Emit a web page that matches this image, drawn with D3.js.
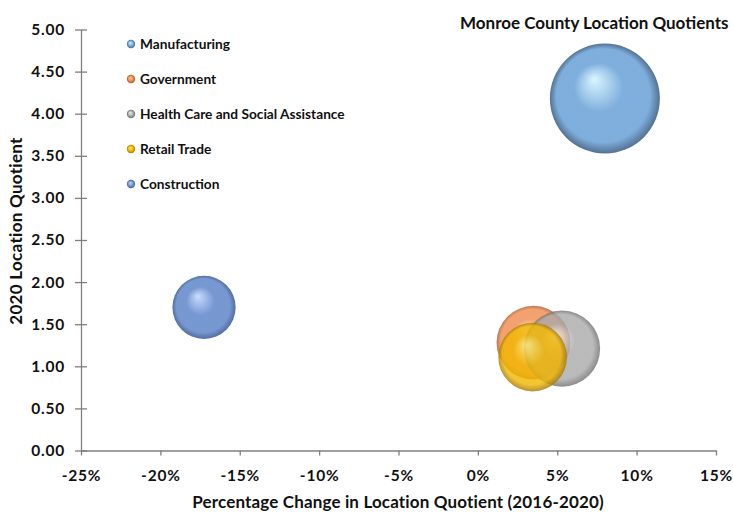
<!DOCTYPE html>
<html><head><meta charset="utf-8">
<script src="https://cdn.jsdelivr.net/npm/d3@7"></script>
<style>
html,body{margin:0;padding:0;background:#fff;}
text{font-family:Lato,"Open Sans",sans-serif;font-weight:bold;fill:#111;}
</style></head>
<body><svg id="c" width="733" height="512"></svg>
<script>
const categories = ["Manufacturing","Government","Health Care and Social Assistance","Retail Trade","Construction"];
const pctChange = [8.0, 3.5, 5.3, 3.45, -17.25];
const locationQuotient = [4.18, 1.28, 1.21, 1.11, 1.70];
const bubbleSize = [100, 45, 48, 39, 33];
const baseColors = ["#78aadb","#f08a4b","#a9a9a9","#f2b700","#7092cf"];
const lightColors = ["#d8f6ff","#ffd2a8","#f2f2f2","#fff07a","#c6dcff"];
const darkColors = ["#4a6a8c","#a65a2a","#6e6e6e","#a57800","#4a659a"];
const xTicks = [-25,-20,-15,-10,-5,0,5,10,15];
const yTicks = [0,0.5,1,1.5,2,2.5,3,3.5,4,4.5,5];

const svg = d3.select("#c");
const x = d3.scaleLinear().domain([-25,15]).range([81,716]);
const y = d3.scaleLinear().domain([0,5]).range([450.5,29.5]);
const r = d3.scaleSqrt().domain([0,100]).range([0,55]);

const defs = svg.append("defs");
categories.forEach((c,i)=>{
  const g = defs.append("radialGradient").attr("id","g"+i)
    .attr("cx","50%").attr("cy","50%").attr("r","50%").attr("fx","40%").attr("fy","32%");
  g.append("stop").attr("offset","0%").attr("stop-color",lightColors[i]);
  g.append("stop").attr("offset","45%").attr("stop-color",baseColors[i]);
  g.append("stop").attr("offset","85%").attr("stop-color",baseColors[i]);
  g.append("stop").attr("offset","100%").attr("stop-color",darkColors[i]);
  const lg = defs.append("radialGradient").attr("id","sm"+i)
    .attr("cx","50%").attr("cy","50%").attr("r","50%").attr("fx","40%").attr("fy","35%");
  lg.append("stop").attr("offset","0%").attr("stop-color",lightColors[i]);
  lg.append("stop").attr("offset","60%").attr("stop-color",baseColors[i]);
  lg.append("stop").attr("offset","100%").attr("stop-color",darkColors[i]);
});

// axes
const yAxis = svg.append("g").attr("transform",`translate(${x(-25)},0)`)
  .call(d3.axisLeft(y).tickValues(yTicks).tickFormat(d3.format(".2f")).tickSize(6).tickSizeOuter(0));
yAxis.selectAll(".tick line").attr("x1",6).attr("x2",-6);
const xAxis = svg.append("g").attr("transform",`translate(0,${y(0)})`)
  .call(d3.axisBottom(x).tickValues(xTicks).tickFormat(d=>d+"%").tickSize(5).tickSizeOuter(0));
[yAxis,xAxis].forEach(a=>{
  a.select(".domain").attr("stroke","#7f7f7f").attr("stroke-width",1.3);
  a.selectAll(".tick line").attr("stroke","#7f7f7f").attr("stroke-width",1.3);
  a.selectAll(".tick text").style("font-size","15.5px").style("letter-spacing","0.8px").attr("fill","#111");
});
yAxis.selectAll(".tick text").attr("x",-16);
xAxis.selectAll(".tick text").attr("y",19);

// bubbles
const order = [0,1,2,3,4];
svg.append("g").selectAll("circle").data(order).join("circle")
  .attr("cx",i=>x(pctChange[i])).attr("cy",i=>y(locationQuotient[i]))
  .attr("r",i=>r(bubbleSize[i]))
  .attr("fill",i=>`url(#g${i})`).attr("fill-opacity",i=>(i>=1&&i<=3)?0.8:0.95);

// legend
const leg = svg.append("g");
categories.forEach((c,i)=>{
  const yy = 44 + i*35;
  leg.append("circle").attr("cx",131).attr("cy",yy).attr("r",4.2).attr("fill",`url(#sm${i})`);
  leg.append("text").attr("x",140).attr("y",yy+5.2).style("font-size","13.7px").text(c);
});

// title
svg.append("text").attr("x",460).attr("y",28.5).style("font-size","17px")
  .text("Monroe County Location Quotients");

// axis titles
svg.append("text").attr("x",398).attr("y",508).attr("text-anchor","middle").style("font-size","17px").style("letter-spacing","0.15px")
  .text("Percentage Change in Location Quotient (2016-2020)");
svg.append("text").attr("transform","translate(22,231) rotate(-90)").attr("text-anchor","middle").style("font-size","17px").style("letter-spacing","0.3px")
  .text("2020 Location Quotient");
</script></body></html>
